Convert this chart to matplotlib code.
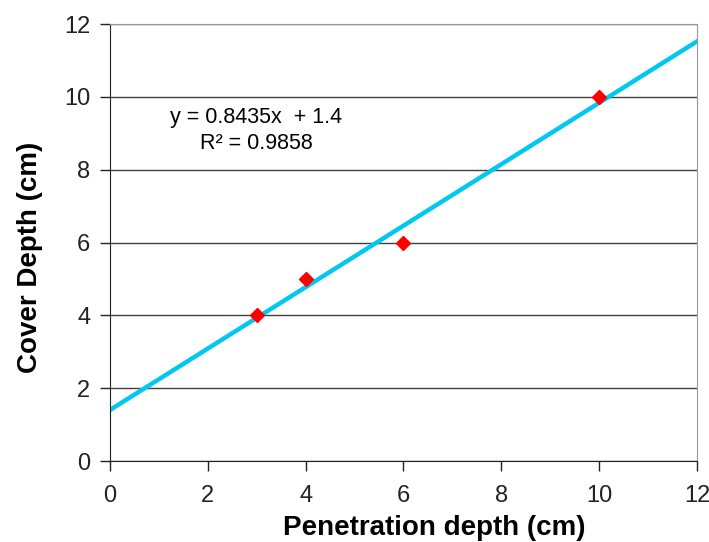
import numpy as np
import matplotlib.pyplot as plt

plt.rcParams['font.family'] = ['Liberation Sans', 'DejaVu Sans']

# Donnees mesurees
penetration = [3, 4, 6, 10]
couverture = [4, 5, 6, 10]

# Droite de tendance
pente = 0.8435
ordonnee = 1.4
x_ligne = np.array([0, 12])

fig = plt.figure(figsize=(7.09, 5.42), dpi=100)
ax = fig.add_axes([0.155, 0.1494, 0.828, 0.8063])

ax.plot(x_ligne, pente * x_ligne + ordonnee, color='#00c8f0', linewidth=3.2, zorder=2)
ax.plot(penetration, couverture, linestyle='none', marker='D', color='red',
        markersize=7.5, zorder=3)

ax.set_xlim(0, 12)
ax.set_ylim(0, 12)
ax.set_xticks(range(0, 13, 2))
ax.set_yticks(range(0, 13, 2))
ax.grid(True, axis='y', color='#404040', linewidth=1)
ax.set_axisbelow(True)

ax.spines['top'].set_color('#999999')
ax.spines['right'].set_color('#999999')
ax.spines['left'].set_color('#222222')
ax.spines['bottom'].set_color('#222222')
ax.tick_params(direction='out', length=7, width=1, color='#222222',
               labelsize=17, pad=7, labelcolor='#222222')
ax.tick_params(axis='x', pad=10)

ax.set_xlabel("Penetration depth (cm)", fontsize=20, fontweight='bold', labelpad=6)
ax.set_ylabel("Cover Depth (cm)", fontsize=20, fontweight='bold', labelpad=15)
ax.xaxis.label.set_x(0.552)
ax.yaxis.label.set_y(0.467)

ax.text(2.98, 9.42, "y = 0.8435x  + 1.4", fontsize=15.5, ha='center', va='center')
ax.text(3.0, 8.72, "R\u00b2 = 0.9858", fontsize=15.5, ha='center', va='center')

fig.savefig("out.png", dpi=100)
